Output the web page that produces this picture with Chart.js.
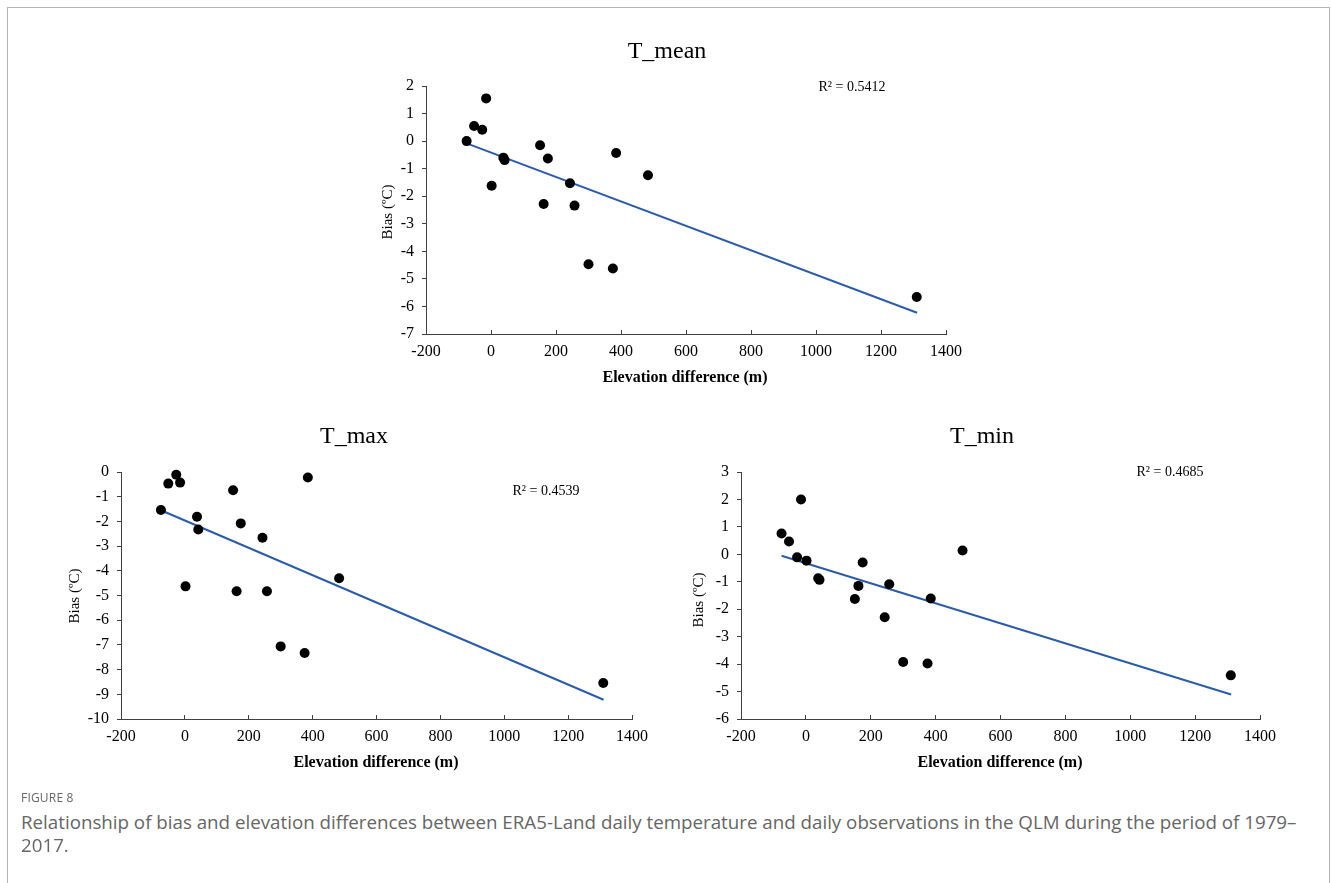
<!DOCTYPE html>
<html>
<head>
<meta charset="utf-8">
<script src="https://cdn.jsdelivr.net/npm/chart.js"></script>
<style>
  body { margin: 0; background: #fff; width: 1331px; height: 883px; overflow: hidden; position: relative; }
  #frame { position: absolute; left: 7px; top: 7px; width: 1323px; height: 900px; border: 1px solid #b4b4b4; border-bottom: none; box-sizing: border-box; }
  canvas { position: absolute; }
  .cap { position: absolute; left: 21px; font-family: "Open Sans"; color: #666; white-space: nowrap; line-height: 20px; transform-origin: 0 50%; }
  #figno { top: 788px; font-size: 12px; letter-spacing: 0.2px; }
  #line1 { top: 812px; font-size: 18px; }
  #line2 { top: 835px; font-size: 18px; }
</style>
</head>
<body>
<div id="frame"></div>
<canvas id="cMean"></canvas>
<canvas id="cMax"></canvas>
<canvas id="cMin"></canvas>
<div class="cap" id="figno">FIGURE 8</div>
<div class="cap" id="line1">Relationship of bias and elevation differences between ERA5-Land daily temperature and daily observations in the QLM during the period of 1979–</div>
<div class="cap" id="line2">2017.</div>
<script>
// station elevation difference (m), shared by all three panels
var elevation = [-75, -52, -27, -15, 2, 38, 42, 151, 162, 175, 243, 257, 300, 375, 385, 483, 1310];
var biasMean = [0.00, 0.55, 0.41, 1.55, -1.62, -0.60, -0.69, -0.15, -2.28, -0.63, -1.53, -2.34, -4.47, -4.62, -0.43, -1.24, -5.66];
var biasMax = [-1.54, -0.47, -0.11, -0.43, -4.63, -1.81, -2.33, -0.74, -4.83, -2.08, -2.66, -4.83, -7.06, -7.33, -0.22, -4.30, -8.54];
var biasMin = [0.76, 0.47, -0.11, 2.00, -0.23, -0.87, -0.93, -1.63, -1.15, -0.30, -2.29, -1.09, -3.92, -3.98, -1.61, 0.14, -4.41];

// linear trend line end points
var trendX = [-75, 1311];
var trendMean = [-0.08, -6.23];
var trendMax = [-1.55, -9.22];
var trendMin = [-0.05, -5.11];

var titles = ['T_mean', 'T_max', 'T_min'];
var r2Labels = ['R² = 0.5412', 'R² = 0.4539', 'R² = 0.4685'];
var xTitle = 'Elevation difference (m)';
var yTitle = 'Bias (ºC)';
var xRange = [-200, 1400];
var xStep = 200;
var yMins = [-7, -10, -6];
var yMaxs = [2, 0, 3];

var seriesList = [biasMean, biasMax, biasMin];
var trendList = [trendMean, trendMax, trendMin];

// page geometry: canvas box, plot area, and text anchors (page px)
var panels = [
  { id: 'cMean', box: [340, 20, 650, 380], area: [426, 86, 946, 334], title: [667, 52], r2: [852, 87], xt: [685, 378], yt: [388, 212] },
  { id: 'cMax', box: [20, 405, 650, 385], area: [121, 472, 632, 719], title: [354, 437], r2: [546, 491], xt: [376, 763], yt: [75, 596] },
  { id: 'cMin', box: [670, 405, 630, 385], area: [741, 472, 1260, 719], title: [982, 437], r2: [1170, 472], xt: [1000, 763], yt: [699, 600] }
];

var serif = '"Liberation Serif", "Times New Roman", serif';

function textPlugin(p, i) {
  return {
    id: 'panelText' + i,
    afterDraw: function (chart) {
      var ctx = chart.ctx;
      var ox = p.box[0], oy = p.box[1];
      ctx.save();
      ctx.fillStyle = '#000';
      ctx.textAlign = 'center';
      ctx.textBaseline = 'middle';
      ctx.font = '24px ' + serif;
      ctx.fillText(titles[i], p.title[0] - ox, p.title[1] - oy);
      ctx.font = '14px ' + serif;
      ctx.fillText(r2Labels[i], p.r2[0] - ox, p.r2[1] - oy);
      ctx.font = 'bold 16px ' + serif;
      ctx.fillText(xTitle, p.xt[0] - ox, p.xt[1] - oy);
      ctx.translate(p.yt[0] - ox, p.yt[1] - oy);
      ctx.rotate(-Math.PI / 2);
      ctx.font = '15px ' + serif;
      ctx.fillText(yTitle, 0, 0);
      ctx.restore();
    }
  };
}

function plain(v) { return String(v); }

panels.forEach(function (p, i) {
  var cv = document.getElementById(p.id);
  cv.width = p.box[2];
  cv.height = p.box[3];
  cv.style.left = p.box[0] + 'px';
  cv.style.top = p.box[1] + 'px';

  var pts = elevation.map(function (x, k) { return { x: x, y: seriesList[i][k] }; });
  var trend = trendX.map(function (x, k) { return { x: x, y: trendList[i][k] }; });

  var yw = p.area[0] - p.box[0];
  var xh = p.box[1] + p.box[3] - p.area[3];

  new Chart(cv.getContext('2d'), {
    type: 'scatter',
    data: {
      datasets: [
        { data: pts, backgroundColor: '#000', borderWidth: 0, pointRadius: 5, pointHoverRadius: 5, clip: false },
        { data: trend, showLine: true, borderColor: '#2B5CAB', borderWidth: 2, pointRadius: 0, fill: false, clip: false }
      ]
    },
    options: {
      responsive: false,
      animation: false,
      layout: { padding: { left: 0, top: p.area[1] - p.box[1], right: p.box[0] + p.box[2] - p.area[2], bottom: 0 } },
      plugins: { legend: { display: false }, tooltip: { enabled: false }, title: { display: false } },
      scales: {
        x: {
          type: 'linear', min: xRange[0], max: xRange[1],
          ticks: { stepSize: xStep, color: '#000', font: { family: serif, size: 16 }, padding: 12, maxRotation: 0, autoSkip: false, callback: plain },
          grid: { drawOnChartArea: false, tickLength: -4, color: '#404040' },
          border: { color: '#404040', width: 1 },
          afterFit: function (s) { s.height = xh; }
        },
        y: {
          type: 'linear', min: yMins[i], max: yMaxs[i],
          ticks: { stepSize: 1, color: '#000', font: { family: serif, size: 16 }, padding: 8, autoSkip: false, callback: plain },
          grid: { drawOnChartArea: false, tickLength: 4, color: '#404040' },
          border: { color: '#404040', width: 1 },
          afterFit: function (s) { s.width = yw; }
        }
      }
    },
    plugins: [textPlugin(p, i)]
  });
});

// stretch caption line to the measured width of the reference line
var line1 = document.getElementById('line1');
var target = 1275;
line1.style.transform = 'scaleX(' + (target / line1.offsetWidth) + ')';
document.getElementById('line2').style.transform = line1.style.transform;
</script>
</body>
</html>
